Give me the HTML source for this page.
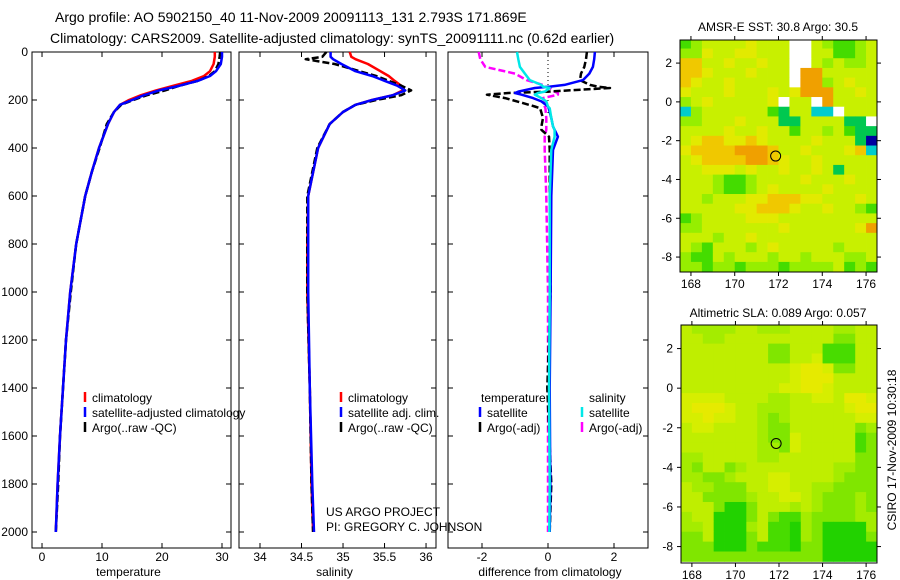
<!DOCTYPE html>
<html><head><meta charset="utf-8">
<style>
html,body{margin:0;padding:0;background:#fff;}
svg{display:block;font-family:"Liberation Sans",sans-serif;}
text{fill:#000;}
</style></head>
<body>
<svg id="fig" width="900" height="580" viewBox="0 0 900 580">
<text x="55" y="22" font-size="14">Argo profile: AO 5902150_40 11-Nov-2009 20091113_131 2.793S 171.869E</text>
<text x="50" y="43" font-size="14">Climatology: CARS2009. Satellite-adjusted climatology: synTS_20091111.nc (0.62d earlier)</text>
<text x="778" y="31" font-size="12" text-anchor="middle">AMSR-E SST: 30.8 Argo: 30.5</text>
<text x="778" y="317" font-size="12" text-anchor="middle">Altimetric SLA: 0.089 Argo: 0.057</text>
<text transform="translate(896,450) rotate(-90)" font-size="12" text-anchor="middle">CSIRO 17-Nov-2009 10:30:18</text>
<text x="326" y="516" font-size="12">US ARGO PROJECT</text>
<text x="326" y="531" font-size="12">PI: GREGORY C. JOHNSON</text>
<g id="layer"></g>
</svg>
<script>
// ---------- profile data ----------
const tDepth = [0,20,50,80,100,120,140,160,180,200,220,250,300,400,500,600,800,1000,1200,1400,1600,1800,2000];
const tClim  = [28.8,28.8,28.6,28,27,25,22,19,16.5,14.5,13,12,11,9.5,8.3,7.2,5.7,4.7,4.0,3.5,3.0,2.6,2.3];
const tSat   = [30,30,29.8,29,28,26,23,19.5,17,15,13,12,11,9.5,8.3,7.2,5.7,4.7,4.0,3.5,3.0,2.6,2.3];
const tArgo  = [29.7,29.6,29.4,28.8,27.8,26,23,20.5,17.5,15.2,13.2,12,10.8,9.6,8.3,7.2,5.7,4.8,4.0,3.5,3.0,2.7,2.3];

const sDepth = [0,20,30,50,80,100,120,140,160,180,200,220,250,300,400,600,800,1000,1400,1800,2000];
const sClim  = [35.08,35.1,35.15,35.3,35.45,35.55,35.62,35.7,35.72,35.6,35.35,35.15,35.0,34.84,34.7,34.58,34.57,34.57,34.6,34.62,34.64];
const sSat   = [34.85,34.85,34.88,34.98,35.15,35.35,35.5,35.65,35.75,35.6,35.35,35.15,35.0,34.84,34.7,34.58,34.58,34.58,34.6,34.63,34.65];
const sArgo  = [34.8,34.75,34.55,34.9,35.2,35.4,35.55,35.7,35.82,35.7,35.4,35.15,35.0,34.84,34.69,34.57,34.57,34.57,34.6,34.62,34.64];

const dDepth   = [0,30,62,90,117,137,144,150,165,171,178,192,206,227,234,275,310,324,353,408,600,1000,1400,1800,2000];
const dTempSat = [1.42,1.4,1.36,1.25,1.06,0.5,0.06,-0.4,-0.9,-1.0,-0.8,-0.45,-0.2,0,0.02,0.1,0.15,0.2,0.3,0.15,0.1,0.08,0.05,0.07,0.05];
const dTempArgo= [1.18,1.15,1.1,1.0,0.97,1.27,1.5,1.88,0,-1.2,-1.85,-1.3,-0.94,-0.4,-0.24,-0.15,-0.2,-0.2,0.03,0.05,0.05,0.08,-0.02,0.1,0.05];
const dSalSat  = [-0.94,-0.9,-0.85,-0.7,-0.55,-0.2,-0.15,0.05,-0.1,-0.3,-0.4,-0.2,-0.05,0,0.05,0.1,0.15,0.2,0.2,0.1,0.05,0.05,0.03,0.05,0.04];
const dSalArgo = [-2.1,-2.05,-1.9,-1.0,-0.65,-0.15,-0.1,0.05,0.2,0.3,0.3,-0.15,-0.1,-0.1,-0.08,-0.05,-0.05,-0.05,-0.1,-0.1,-0.05,0,0,0,0];

const tTicks = [0,10,20,30];
const sTicks = [34,34.5,35,35.5,36];
const dTicks = [-2,0,2];
const depthTicks = [0,200,400,600,800,1000,1200,1400,1600,1800,2000];

// ---------- map data ----------
const lonTicks = [168,170,172,174,176];
const latTicks = [2,0,-2,-4,-6,-8];
const argoLon = 171.869, argoLat = -2.793;
const sstColors = ["#c8f000","#e2ea00","#f0c800","#f0a000","#96ee00","#44dc00","#00c850","#00cccc","#0000a0","#ffffff"];
const sstGrid = [
"540000100099045540","441001100099005540","220010010099040440","221000100093300000",
"210010000093340100","100010001013330010","401000001900930000","740000005600779000",
"440001000660000669","000010010050040566","012211210000100068","122223332001000127",
"012222332100100000","001110100100106000","000455400001000100","000455401000010000",
"004000112221100010","000001122210010045","540000111000000000","440000000100000013",
"000400100000000000","045000401000004000","455040004004000440","445445444544440545"];
const slaColors = ["#bfee00","#d6ee00","#e6ea00","#a4ec00","#80e600","#48dc00","#22d200"];
const slaGrid = [
"033330033300003300","003300000000004400","000000004400055500","000000004400155500",
"000000000012214400","000000000012220000","000000000112210000","111100003300110221",
"122210033300000122","112110034300000011","011000034400000043","000000034410000054",
"000000033410000054","330000033000000044","340043000000003344","334430001100003444",
"033444001100334444","004444300110344434","000466400030344434","300666404553444433",
"330666305563466663","440666405563466664","444666455564466666","444444444444466666"];

const NS="http://www.w3.org/2000/svg";
const layer=document.getElementById('layer');
function el(tag,attrs,parent){const e=document.createElementNS(NS,tag);for(const k in attrs)e.setAttribute(k,attrs[k]);(parent||layer).appendChild(e);return e;}

const pTop=52,pBot=548;
const yD=d=>pTop+d*0.24;
const panels=[
 {x0:32,x1:231,v0:-1.67,v1:31.5,ticks:tTicks,label:"temperature",name:"temperature"},
 {x0:239,x1:436,v0:33.747,v1:36.12,ticks:sTicks,label:"salinity",name:"salinity"},
 {x0:448,x1:648,v0:-3.03,v1:3.03,ticks:dTicks,label:"difference from climatology",name:"difference"}
];
panels.forEach(p=>{p.sx=v=>p.x0+(v-p.v0)/(p.v1-p.v0)*(p.x1-p.x0);});

function drawLine(p,xs,ds,color,dash,name){
  let pts=xs.map((v,i)=>p.sx(v).toFixed(1)+","+yD(ds[i]).toFixed(1)).join(" ");
  const a={points:pts,fill:"none",stroke:color,"stroke-width":2.5,"stroke-linejoin":"round"};
  if(dash)a["stroke-dasharray"]=dash;
  const l=el('polyline',a);
  
  
}

panels.forEach((p,pi)=>{
  const g=el('g',{});
  
  
  const r=el('rect',{x:p.x0,y:pTop,width:p.x1-p.x0,height:pBot-pTop,fill:"none",stroke:"#000","stroke-width":1},g);
  
  
  p.ticks.forEach(t=>{
    const x=p.sx(t);
    el('line',{x1:x,y1:pBot,x2:x,y2:pBot-5,stroke:"#000"},g);
    el('line',{x1:x,y1:pTop,x2:x,y2:pTop+5,stroke:"#000"},g);
    const tx=el('text',{x:x,y:561,"font-size":12,"text-anchor":"middle"},g);
    tx.textContent=String(t);
    
    
  });
  depthTicks.forEach(d=>{
    const y=yD(d);
    el('line',{x1:p.x0,y1:y,x2:p.x0+5,y2:y,stroke:"#000"},g);
    el('line',{x1:p.x1,y1:y,x2:p.x1-5,y2:y,stroke:"#000"},g);
    if(pi===0){
      const tx=el('text',{x:28,y:y+4,"font-size":12,"text-anchor":"end"},g);
      tx.textContent=String(d);
      
      
    }
  });
  const xl=el('text',{x:(p.x0+p.x1)/2+(pi===2?2:-3),y:576,"font-size":12,"text-anchor":"middle"},g);
  xl.textContent=p.label;
  
  
});

drawLine(panels[0],tClim,tDepth,"#ff0000",null,"temp-climatology-line");
drawLine(panels[0],tArgo,tDepth,"#000",'7,3',"temp-argo-line");
drawLine(panels[0],tSat,tDepth,"#0000ff",null,"temp-satellite-line");
drawLine(panels[1],sClim,sDepth,"#ff0000",null,"sal-climatology-line");
drawLine(panels[1],sArgo,sDepth,"#000",'7,3',"sal-argo-line");
drawLine(panels[1],sSat,sDepth,"#0000ff",null,"sal-satellite-line");
const zl=el('line',{x1:panels[2].sx(0),y1:pTop,x2:panels[2].sx(0),y2:yD(260),stroke:"#000","stroke-dasharray":"1,3"});


drawLine(panels[2],dSalArgo,dDepth,"#ff00ff",'7,3',"diff-sal-argo-line");
drawLine(panels[2],dTempArgo,dDepth,"#000",'7,3',"diff-temp-argo-line");
drawLine(panels[2],dTempSat,dDepth,"#0000ff",null,"diff-temp-satellite-line");
drawLine(panels[2],dSalSat,dDepth,"#00e8e8",null,"diff-sal-satellite-line");

function legend(x,y,color,label,name){
  const g=el('g',{});
  
  
  if(color) el('line',{x1:x,y1:y-10,x2:x,y2:y,stroke:color,"stroke-width":2.5},g);
  const t=el('text',{x:x+7,y:y,"font-size":12},g);
  t.textContent=label;
}
legend(85,402,"#ff0000","climatology","legend-temp-climatology");
legend(85,417,"#0000ff","satellite-adjusted climatology","legend-temp-satellite");
legend(85,432,"#000","Argo(..raw -QC)","legend-temp-argo");
legend(341,402,"#ff0000","climatology","legend-sal-climatology");
legend(341,417,"#0000ff","satellite adj. clim.","legend-sal-satellite");
legend(341,432,"#000","Argo(..raw -QC)","legend-sal-argo");
legend(474,402,null,"temperature","legend-temperature-heading");
legend(582,402,null,"salinity","legend-salinity-heading");
legend(480,417,"#0000ff","satellite","legend-diff-temp-satellite");
legend(480,432,"#000","Argo(-adj)","legend-diff-temp-argo");
legend(582,417,"#00e8e8","satellite","legend-diff-sal-satellite");
legend(582,432,"#ff00ff","Argo(-adj)","legend-diff-sal-argo");

function drawMap(name,x0,x1,y0,y1,lat0,lat1,grid,colors,id){
  const lon0=167.5,lon1=176.5;
  const sx=lo=>x0+(lo-lon0)/(lon1-lon0)*(x1-x0);
  const sy=la=>y0+(lat0-la)/(lat0-lat1)*(y1-y0);
  const g=el('g',{});
  
  
  const cp=el('clipPath',{id:id},g);
  el('rect',{x:x0,y:y0,width:x1-x0,height:y1-y0},cp);
  const cells=el('g',{"clip-path":"url(#"+id+")"},g);
  grid.forEach((row,j)=>{
    for(let i=0;i<row.length;i++){
      const lo=lon0+i*0.5, la=3.25-j*0.5;
      const c=el('rect',{x:sx(lo).toFixed(2),y:sy(la).toFixed(2),width:(sx(lo+0.5)-sx(lo)+0.4).toFixed(2),height:(sy(la-0.5)-sy(la)+0.4).toFixed(2),fill:colors[+row[i]]},cells);
      
      
    }
  });
  const fr=el('rect',{x:x0,y:y0,width:x1-x0,height:y1-y0,fill:"none",stroke:"#000"},g);
  
  
  lonTicks.forEach(lo=>{
    const x=sx(lo);
    el('line',{x1:x,y1:y0,x2:x,y2:y0-4,stroke:"#000"},g);
    el('line',{x1:x,y1:y1,x2:x,y2:y1+4,stroke:"#000"},g);
    const t=el('text',{x:x,y:y1+16,"font-size":12,"text-anchor":"middle"},g);
    t.textContent=String(lo);
    
    
  });
  latTicks.forEach(la=>{
    const y=sy(la);
    el('line',{x1:x0,y1:y,x2:x0-4,y2:y,stroke:"#000"},g);
    el('line',{x1:x1,y1:y,x2:x1+4,y2:y,stroke:"#000"},g);
    const t=el('text',{x:x0-8,y:y+4,"font-size":12,"text-anchor":"end"},g);
    t.textContent=String(la);
    
    
  });
  const m=el('circle',{cx:sx(argoLon),cy:sy(argoLat),r:5,fill:"none",stroke:"#000","stroke-width":1},g);
  
  
}
drawMap("sst-map",680,877,40,272,3.19,-8.77,sstGrid,sstColors,"clipA");
drawMap("sla-map",681,877,325,563,3.19,-8.83,slaGrid,slaColors,"clipB");
</script>
</body></html>
